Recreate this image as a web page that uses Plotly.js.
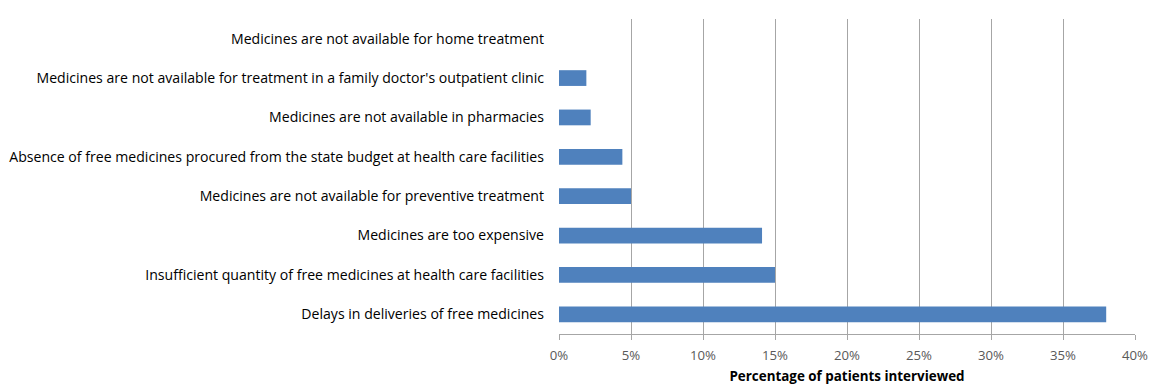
<!DOCTYPE html>
<html>
<head>
<meta charset="utf-8">
<script src="https://cdn.plot.ly/plotly-3.0.1.min.js"></script>
<style>html,body{margin:0;padding:0;background:#fff;}#chart{width:1151px;height:385px;}</style>
</head>
<body>
<div id="chart"></div>
<script>
// Categories listed bottom to top
const categories = [
  "Delays in deliveries of free medicines",
  "Insufficient quantity of free medicines at health care facilities",
  "Medicines are too expensive",
  "Medicines are not available for preventive treatment",
  "Absence of free medicines procured from the state budget at health care facilities",
  "Medicines are not available in pharmacies",
  "Medicines are not available for treatment in a family doctor's outpatient clinic",
  "Medicines are not available for home treatment"
];
const percentValues = [38.0, 15.0, 14.1, 5.0, 4.4, 2.2, 1.9, 0];
const xTickValues = [0, 5, 10, 15, 20, 25, 30, 35, 40];
const xTickLabels = ["0%", "5%", "10%", "15%", "20%", "25%", "30%", "35%", "40%"];
const xAxisTitle = "Percentage of patients interviewed";

const trace = {
  type: "bar",
  orientation: "h",
  y: categories,
  x: percentValues,
  marker: {color: "#4F81BD", line: {width: 0}},
  width: 0.4,
  hoverinfo: "x+y"
};

const layout = {
  width: 1151,
  height: 385,
  margin: {l: 559, r: 16, t: 19, b: 51},
  paper_bgcolor: "#ffffff",
  plot_bgcolor: "#ffffff",
  showlegend: false,
  font: {family: "'Open Sans', sans-serif", size: 13, color: "#000"},
  xaxis: {
    range: [0, 40],
    tickvals: xTickValues,
    ticktext: xTickLabels,
    showgrid: true,
    gridcolor: "#a6a6a6",
    gridwidth: 1,
    zeroline: false,
    showline: true,
    linecolor: "#a6a6a6",
    ticks: "outside",
    ticklen: 5,
    tickcolor: "#a6a6a6",
    ticklabelstandoff: 4,
    tickfont: {size: 13.2, color: "#595959"},
    title: {text: xAxisTitle, font: {size: 13.4, color: "#000", weight: "bold"}, standoff: 14},
    automargin: false,
    fixedrange: true
  },
  yaxis: {
    type: "category",
    categoryorder: "array",
    categoryarray: categories,
    range: [-0.5, 7.5],
    showgrid: false,
    zeroline: false,
    showline: false,
    ticks: "",
    ticklabelstandoff: 14,
    tickfont: {size: 14.1, color: "#000"},
    automargin: false,
    fixedrange: true
  }
};

Plotly.newPlot("chart", [trace], layout, {displayModeBar: false, staticPlot: true});
</script>
</body>
</html>
